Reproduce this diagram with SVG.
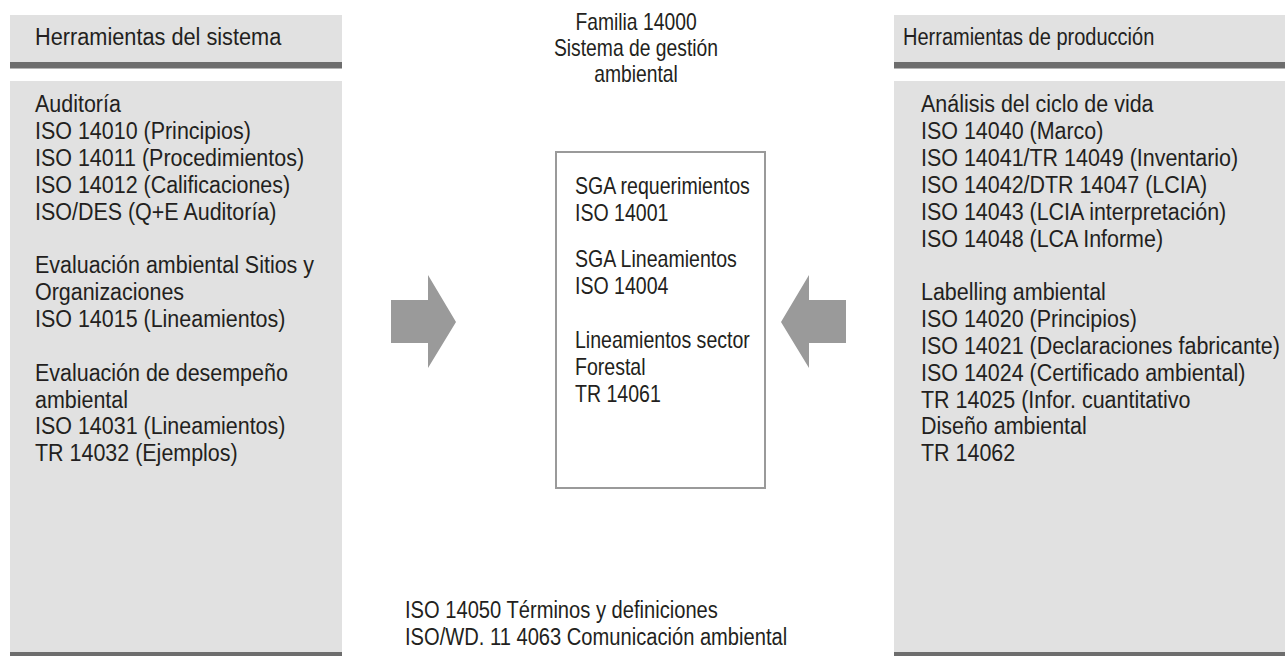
<svg xmlns="http://www.w3.org/2000/svg" width="1285" height="656" viewBox="0 0 1285 656">
<style>
.t{font-family:"Liberation Sans",Arial,sans-serif;font-size:23px;fill:#231f20}
.panel{fill:#e1e1e1}
.bar{fill:#6d6d6d}
.arrow{fill:#9a9a9a}
</style>
<rect width="1285" height="656" fill="#ffffff"/>
<g id="left-header">
<rect class="panel" x="10" y="15" width="332" height="47"/>
<rect class="bar" x="10" y="62" width="332" height="6.5"/>
<g transform="translate(35,0) scale(0.945,1)"><text class="t" x="0" y="45.5">Herramientas del sistema</text></g>
</g>
<g id="left-panel">
<rect class="panel" x="10" y="81" width="332" height="571"/>
<rect class="bar" x="10" y="652" width="332" height="4"/>
<g transform="translate(35,0) scale(0.933,1)">
<text class="t" x="0" y="112.3">Auditoría</text>
<text class="t" x="0" y="139.15">ISO 14010 (Principios)</text>
<text class="t" x="0" y="166">ISO 14011 (Procedimientos)</text>
<text class="t" x="0" y="192.85">ISO 14012 (Calificaciones)</text>
<text class="t" x="0" y="219.7">ISO/DES (Q+E Auditoría)</text>
<text class="t" x="0" y="273.4">Evaluación ambiental Sitios y</text>
<text class="t" x="0" y="300.25">Organizaciones</text>
<text class="t" x="0" y="327.1">ISO 14015 (Lineamientos)</text>
<text class="t" x="0" y="380.8">Evaluación de desempeño</text>
<text class="t" x="0" y="407.65">ambiental</text>
<text class="t" x="0" y="434.5">ISO 14031 (Lineamientos)</text>
<text class="t" x="0" y="461.35">TR 14032 (Ejemplos)</text>
</g>
</g>
<g id="title">
<g transform="translate(636,0) scale(0.84,1)">
<text class="t" x="0" y="30.3" text-anchor="middle">Familia 14000</text>
<text class="t" x="0" y="56.3" text-anchor="middle">Sistema de gestión</text>
<text class="t" x="0" y="82.3" text-anchor="middle">ambiental</text>
</g>
</g>
<g id="center-box">
<rect x="556" y="152" width="209" height="336" fill="#ffffff" stroke="#9a9a9a" stroke-width="2"/>
<g transform="translate(575,0) scale(0.85,1)">
<text class="t" x="0" y="194.3">SGA requerimientos</text>
<text class="t" x="0" y="221.3">ISO 14001</text>
<text class="t" x="0" y="267.3">SGA Lineamientos</text>
<text class="t" x="0" y="294.3">ISO 14004</text>
<text class="t" x="0" y="348.3">Lineamientos sector</text>
<text class="t" x="0" y="375.3">Forestal</text>
<text class="t" x="0" y="402.3">TR 14061</text>
</g>
</g>
<g id="right-header">
<rect class="panel" x="894" y="15" width="391" height="47"/>
<rect class="bar" x="894" y="62" width="391" height="6.5"/>
<g transform="translate(903,0) scale(0.87,1)"><text class="t" x="0" y="45.5">Herramientas de producción</text></g>
</g>
<g id="right-panel">
<rect class="panel" x="894" y="81" width="391" height="571"/>
<rect class="bar" x="894" y="652" width="391" height="4"/>
<g transform="translate(921,0) scale(0.933,1)">
<text class="t" x="0" y="112.3">Análisis del ciclo de vida</text>
<text class="t" x="0" y="139.15">ISO 14040 (Marco)</text>
<text class="t" x="0" y="166">ISO 14041/TR 14049 (Inventario)</text>
<text class="t" x="0" y="192.85">ISO 14042/DTR 14047 (LCIA)</text>
<text class="t" x="0" y="219.7">ISO 14043 (LCIA interpretación)</text>
<text class="t" x="0" y="246.55">ISO 14048 (LCA Informe)</text>
<text class="t" x="0" y="300.25">Labelling ambiental</text>
<text class="t" x="0" y="327.1">ISO 14020 (Principios)</text>
<text class="t" x="0" y="353.95">ISO 14021 (Declaraciones fabricante)</text>
<text class="t" x="0" y="380.8">ISO 14024 (Certificado ambiental)</text>
<text class="t" x="0" y="407.65">TR 14025 (Infor. cuantitativo</text>
<text class="t" x="0" y="434.5">Diseño ambiental</text>
<text class="t" x="0" y="461.35">TR 14062</text>
</g>
</g>
<g id="footer">
<g transform="translate(405,0) scale(0.875,1)">
<text class="t" x="0" y="618.3">ISO 14050 Términos y definiciones</text>
<text class="t" x="0" y="645.3">ISO/WD. 11 4063 Comunicación ambiental</text>
</g>
</g>
<g id="connectors">
<polygon class="arrow" points="391,300 428,300 428,275 456,322 428,368 428,343 391,343"/>
<polygon class="arrow" points="846,300 809,300 809,275 781,322 809,368 809,343 846,343"/>
</g>
</svg>
